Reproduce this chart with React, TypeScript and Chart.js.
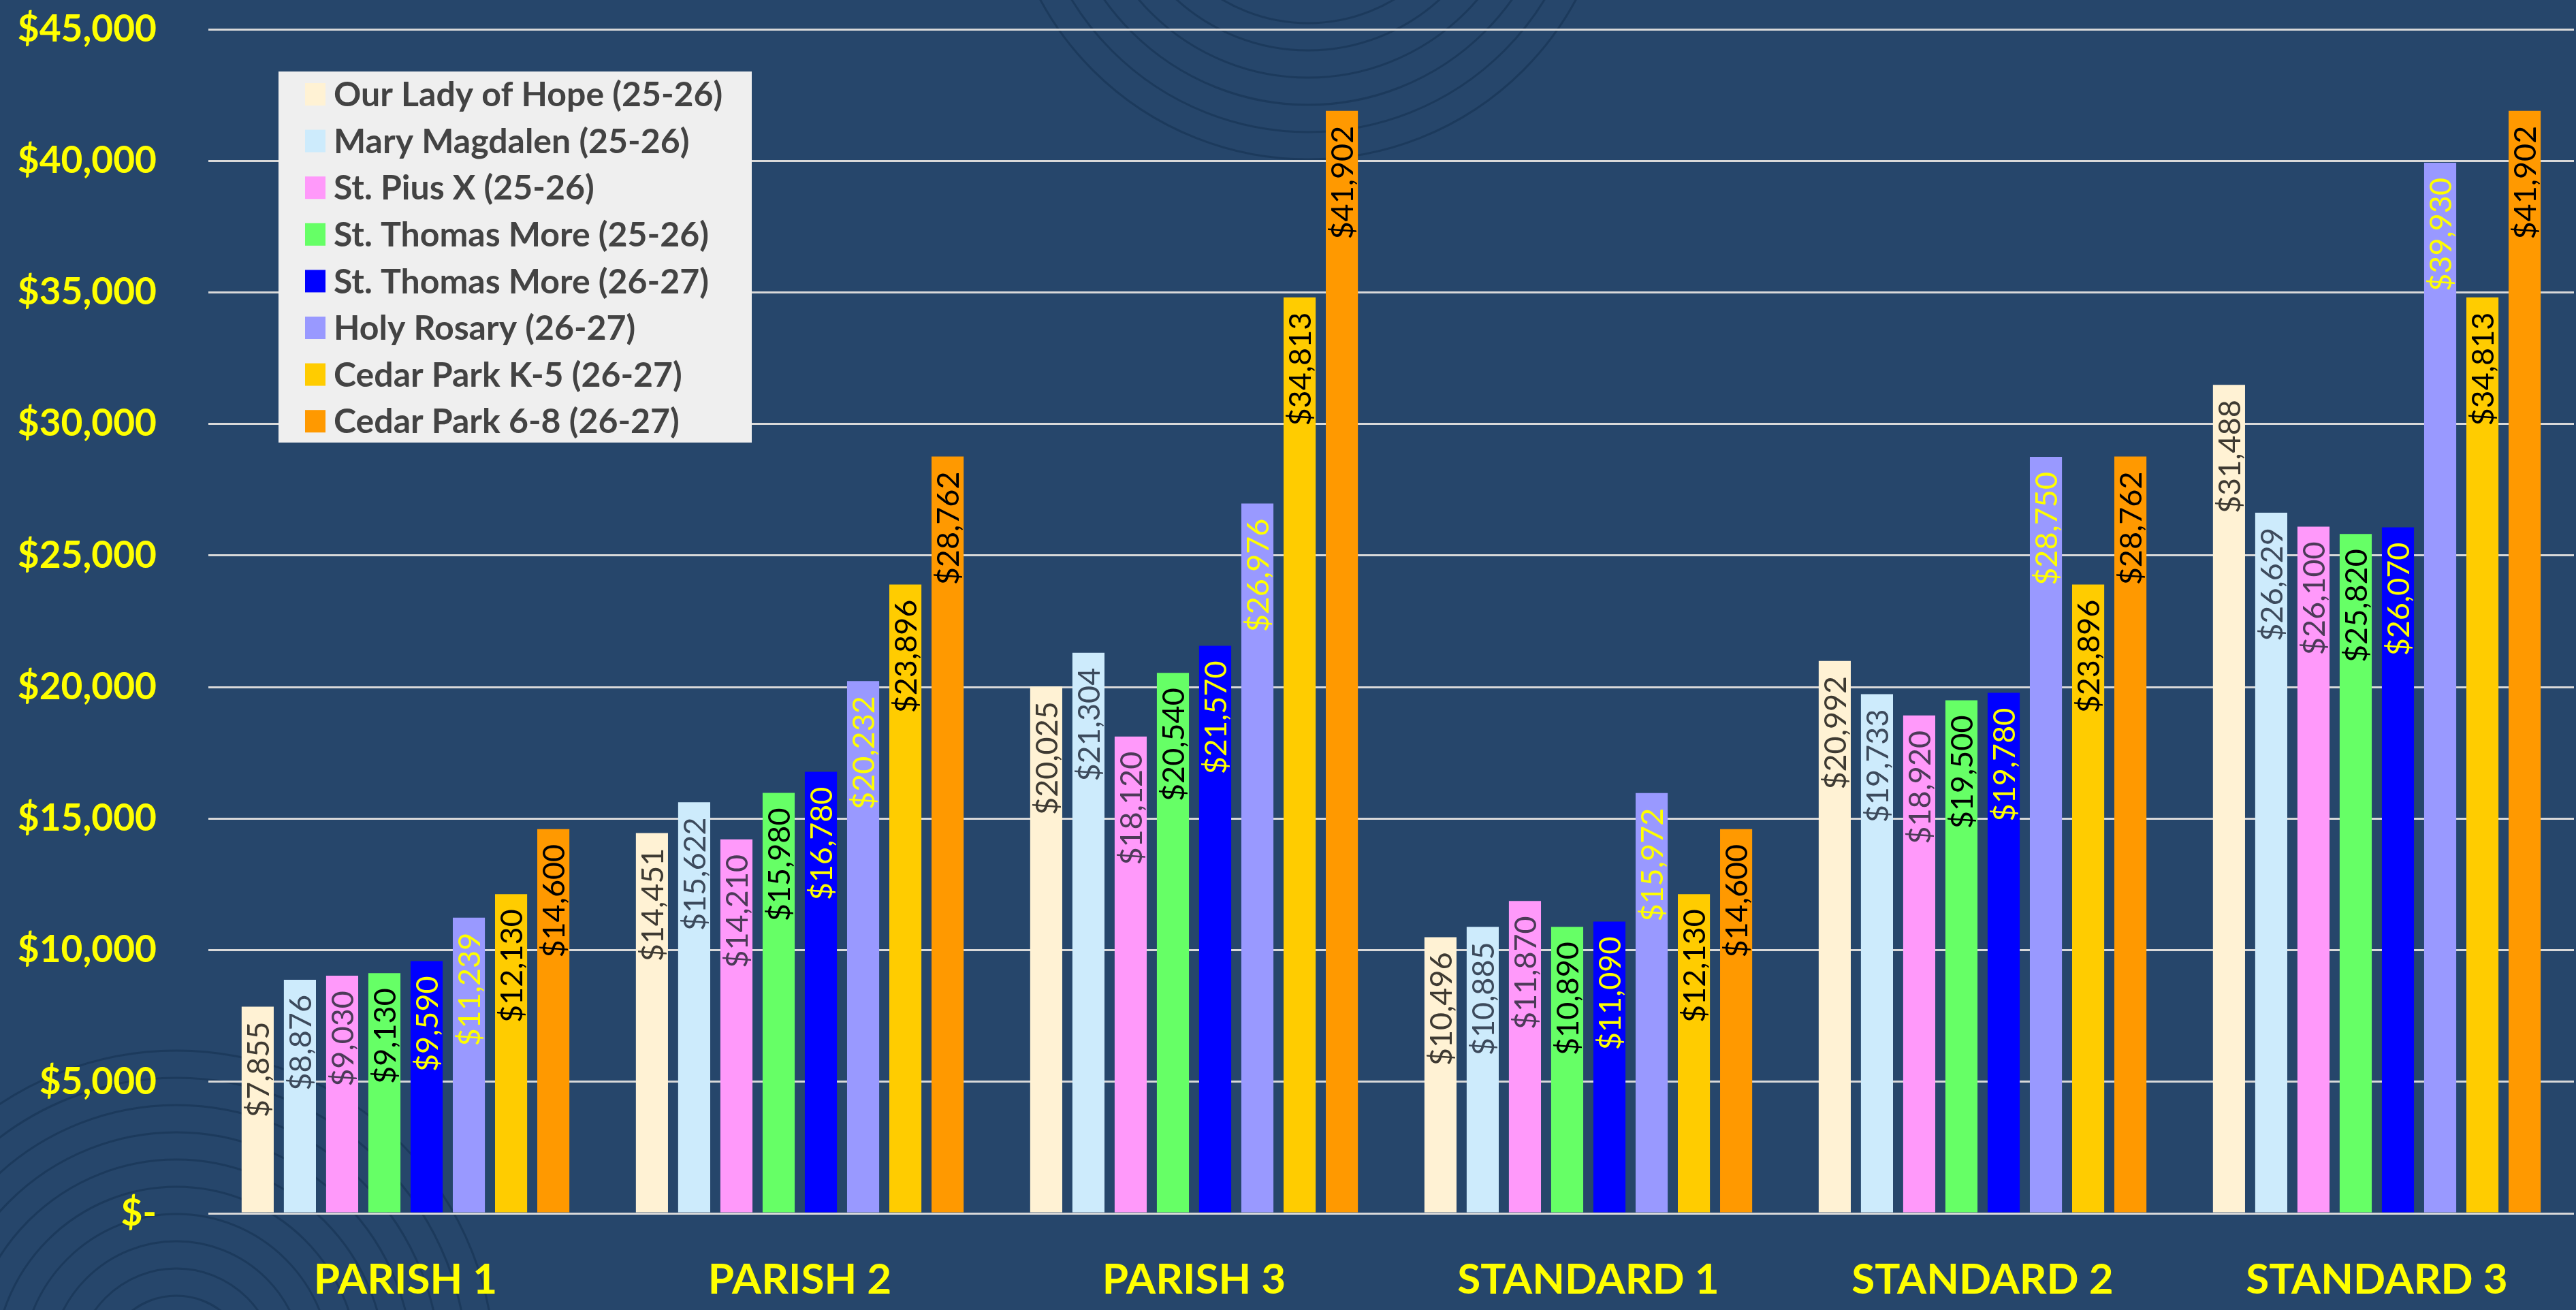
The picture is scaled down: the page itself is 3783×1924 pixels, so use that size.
import React, { useEffect, useRef } from "react";
import { Chart, registerables } from "chart.js";

Chart.register(...registerables);

// ---------- data ----------
const CATEGORIES = ["PARISH 1", "PARISH 2", "PARISH 3", "STANDARD 1", "STANDARD 2", "STANDARD 3"];

const SERIES_NAMES = [
  "Our Lady of Hope (25-26)",
  "Mary Magdalen (25-26)",
  "St. Pius X (25-26)",
  "St. Thomas More (25-26)",
  "St. Thomas More (26-27)",
  "Holy Rosary (26-27)",
  "Cedar Park K-5 (26-27)",
  "Cedar Park 6-8 (26-27)",
];

const OUR_LADY_OF_HOPE = [7855, 14451, 20025, 10496, 20992, 31488];
const MARY_MAGDALEN = [8876, 15622, 21304, 10885, 19733, 26629];
const ST_PIUS_X = [9030, 14210, 18120, 11870, 18920, 26100];
const ST_THOMAS_MORE_2526 = [9130, 15980, 20540, 10890, 19500, 25820];
const ST_THOMAS_MORE_2627 = [9590, 16780, 21570, 11090, 19780, 26070];
const HOLY_ROSARY = [11239, 20232, 26976, 15972, 28750, 39930];
const CEDAR_PARK_K5 = [12130, 23896, 34813, 12130, 23896, 34813];
const CEDAR_PARK_68 = [14600, 28762, 41902, 14600, 28762, 41902];

const SERIES_VALUES = [
  OUR_LADY_OF_HOPE,
  MARY_MAGDALEN,
  ST_PIUS_X,
  ST_THOMAS_MORE_2526,
  ST_THOMAS_MORE_2627,
  HOLY_ROSARY,
  CEDAR_PARK_K5,
  CEDAR_PARK_68,
];

const Y_MIN = 0;
const Y_MAX = 45000;
const Y_STEP = 5000;

// ---------- styles ----------
const BAR_COLORS = ["#FFF2D4", "#CDEBFC", "#FF99FA", "#66FF66", "#0000FF", "#9999FF", "#FFCC00", "#FF9900"];
const LABEL_COLORS = ["#3E3A32", "#3C4A5C", "#4C3A58", "#000000", "#FFFF00", "#FFFF00", "#000000", "#000000"];
const BG = "#26466B";
const YELLOW = "#FFFF00";

function fmt(v: number): string {
  if (v === 0) return "$-";
  return "$" + v.toLocaleString("en-US");
}

const backgroundPlugin = {
  id: "bgDeco",
  beforeDraw(chart: any) {
    const ctx = chart.ctx;
    ctx.save();
    ctx.fillStyle = BG;
    ctx.fillRect(0, 0, chart.width, chart.height);
    ctx.strokeStyle = "rgba(22, 50, 82, 0.6)";
    ctx.lineWidth = 3;
    // top concentric arcs
    for (let r = 447; r > 40; r -= 40) {
      ctx.beginPath();
      ctx.arc(1921, -213, r, 0, Math.PI * 2);
      ctx.stroke();
    }
    // bottom-left concentric arcs
    for (let r = 467; r > 60; r -= 40) {
      ctx.beginPath();
      ctx.arc(259, 2010, r, 0, Math.PI * 2);
      ctx.stroke();
    }
    ctx.restore();
  },
};

const dataLabelPlugin = {
  id: "barLabels",
  afterDatasetsDraw(chart: any) {
    const ctx = chart.ctx;
    ctx.save();
    ctx.font = "normal 45px Lato";
    ctx.textAlign = "right";
    ctx.textBaseline = "middle";
    chart.data.datasets.forEach((ds: any, di: number) => {
      const meta = chart.getDatasetMeta(di);
      meta.data.forEach((el: any, i: number) => {
        const v = ds.data[i];
        ctx.save();
        ctx.translate(el.x, el.y + 22);
        ctx.rotate(-Math.PI / 2);
        ctx.fillStyle = LABEL_COLORS[di];
        ctx.fillText(fmt(v), 0, 2);
        ctx.restore();
      });
    });
    ctx.restore();
  },
};

const legendPlugin = {
  id: "boxLegend",
  afterDraw(chart: any) {
    const ctx = chart.ctx;
    ctx.save();
    const x0 = 409, y0 = 105, w = 695, h = 545;
    ctx.fillStyle = "#EFEFEF";
    ctx.fillRect(x0, y0, w, h);
    ctx.font = "bold 50px Lato";
    ctx.textAlign = "left";
    ctx.textBaseline = "middle";
    chart.data.datasets.forEach((ds: any, i: number) => {
      const cy = 138 + i * 68.6;
      ctx.fillStyle = ds.backgroundColor;
      ctx.fillRect(448, cy - 16, 30, 33);
      ctx.fillStyle = "#434343";
      ctx.fillText(ds.label, 490, cy + 2);
    });
    ctx.restore();
  },
};

export default function App() {
  const canvasRef = useRef<HTMLCanvasElement | null>(null);

  useEffect(() => {
    document.body.style.margin = "0";
    document.body.style.overflow = "hidden";
    let chart: Chart | null = null;
    let cancelled = false;

    const build = () => {
      if (cancelled || !canvasRef.current) return;
      chart = new Chart(canvasRef.current, {
        type: "bar",
        data: {
          labels: CATEGORIES,
          datasets: SERIES_VALUES.map((vals, i) => ({
            label: SERIES_NAMES[i],
            data: vals,
            backgroundColor: BAR_COLORS[i],
            borderWidth: 0,
            categoryPercentage: 0.857,
            barPercentage: 0.76,
          })),
        },
        options: {
          responsive: false,
          animation: false,
          devicePixelRatio: 1,
          layout: { padding: { top: 43, right: 3, left: 0, bottom: 0 } },
          plugins: {
            legend: { display: false },
            tooltip: { enabled: false },
            title: { display: false },
          },
          scales: {
            x: {
              grid: { display: false, drawTicks: false, tickLength: 0 },
              border: { display: false },
              ticks: {
                color: YELLOW,
                font: { family: "Lato", weight: "bold", size: 62 },
                padding: 61,
                maxRotation: 0,
                autoSkip: false,
              },
              afterFit: (axis: any) => {
                axis.height = 142;
                axis.paddingLeft = 0;
                axis.paddingRight = 0;
                axis.paddingTop = 0;
                axis.paddingBottom = 0;
              },
            },
            y: {
              min: Y_MIN,
              max: Y_MAX,
              grid: { color: "#D9D9D9", lineWidth: 3, drawTicks: false, tickLength: 0 },
              border: { display: false },
              ticks: {
                stepSize: Y_STEP,
                color: YELLOW,
                font: { family: "Lato", weight: "bold", size: 55 },
                padding: 76,
                callback: (v: any) => fmt(Number(v)),
              },
              afterFit: (axis: any) => {
                axis.width = 306;
                axis.paddingTop = 0;
                axis.paddingBottom = 0;
                axis.paddingLeft = 0;
                axis.paddingRight = 0;
              },
            },
          },
        },
        plugins: [backgroundPlugin, dataLabelPlugin, legendPlugin],
      } as any);
    };

    const fontsAny = (document as any).fonts;
    if (fontsAny && fontsAny.load) {
      Promise.all([
        fontsAny.load("bold 55px Lato"),
        fontsAny.load("normal 45px Lato"),
      ])
        .catch(() => {})
        .then(build);
    } else {
      build();
    }

    return () => {
      cancelled = true;
      if (chart) chart.destroy();
    };
  }, []);

  return (
    <canvas
      ref={canvasRef}
      width={3783}
      height={1924}
      style={{ display: "block", width: "3783px", height: "1924px" }}
    />
  );
}
